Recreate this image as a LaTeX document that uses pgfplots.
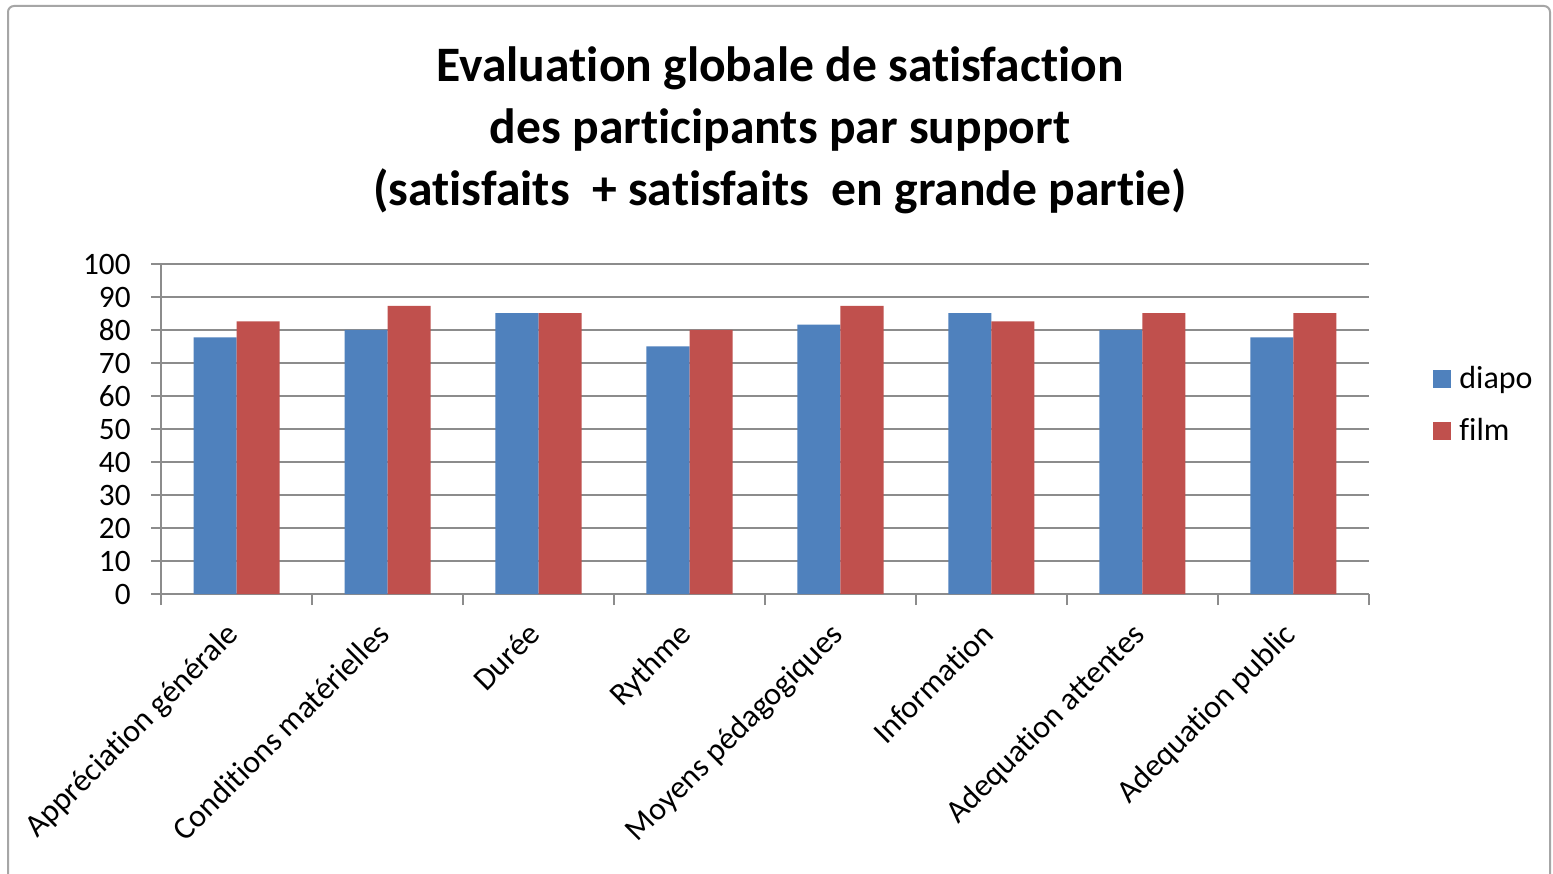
\documentclass[border=0pt]{standalone}
\usepackage{pgfplots}
\pgfplotsset{compat=1.18}
\usepackage{fontspec}
\setmainfont{Carlito}[Ligatures={NoCommon,NoRare,NoContextual}, RawFeature={-liga;-clig;-dlig;-calt}]
\definecolor{diapo}{HTML}{4F81BD}
\definecolor{film}{HTML}{C0504D}
\definecolor{gridc}{HTML}{8C8C8C}
\begin{document}
\begin{tikzpicture}
\useasboundingbox (0,0) rectangle (776.5pt,436.5pt);
\fill[white] (0,0) rectangle (776.5pt,436.5pt);
\draw[gray!70, line width=1pt, rounded corners=3pt] (4pt,-5pt) rectangle (775pt,433.5pt);
\node[font=\bfseries\fontsize{24.8}{29}\selectfont, anchor=base] at (390pt,395.75pt) {Evaluation globale de satisfaction};
\node[font=\bfseries\fontsize{24.8}{29}\selectfont, anchor=base] at (390pt,364.75pt) {des participants par support};
\node[font=\bfseries\fontsize{24.8}{29}\selectfont, anchor=base] at (390pt,333.75pt) {(satisfaits\ \ + satisfaits\ \ en grande partie)};
\begin{axis}[
  at={(80.5pt,139.5pt)}, anchor=south west,
  scale only axis, width=604pt, height=165pt,
  ybar=0pt, bar width=21.5pt,
  xmin=-0.5, xmax=7.5, ymin=0, ymax=100,
  enlarge x limits=false,
  axis lines*=left,
  axis line style={gridc, line width=0.7pt},
  xtick={0,...,7},
  xticklabels={Appréciation générale, Conditions matérielles, Durée, Rythme, Moyens pédagogiques, Information, Adequation attentes, Adequation public},
  major x tick style={draw=none},
  minor xtick={-0.5,0.5,...,7.5},
  minor x tick style={gridc, line width=0.7pt},
  minor tick length=5.5pt,
  ytick={0,10,...,100},
  major tick length=5pt,
  tick align=outside,
  y tick style={gridc, line width=0.7pt},
  ymajorgrids,
  grid style={gridc, line width=0.7pt},
  yticklabel style={font=\fontsize{15.6}{18}\selectfont, inner sep=0pt, xshift=-10pt},
  /pgf/number format/assume math mode=true,
  xticklabel style={font=\fontsize{16}{19}\selectfont, rotate=45, anchor=north east, inner sep=1pt, xshift=-9pt, yshift=-0.5pt},
  legend style={at={(1.053,0.573)}, anchor=west, draw=none, fill=none, inner sep=0pt,
    font=\fontsize{16}{19}\selectfont, row sep=9pt,
    /tikz/every odd column/.append style={column sep=2pt}},
  legend cell align=left,
  legend image code/.code={\fill[#1] (0pt,-4.5pt) rectangle (9pt,4.5pt);},
]
\addplot[fill=diapo, draw=none] coordinates {(0,77.8) (1,80) (2,85.1) (3,75) (4,81.6) (5,85.1) (6,80) (7,77.8)};
\addplot[fill=film, draw=none] coordinates {(0,82.6) (1,87.3) (2,85.1) (3,80) (4,87.3) (5,82.6) (6,85.1) (7,85.1)};
\legend{diapo, film}
\end{axis}
\end{tikzpicture}
\end{document}
